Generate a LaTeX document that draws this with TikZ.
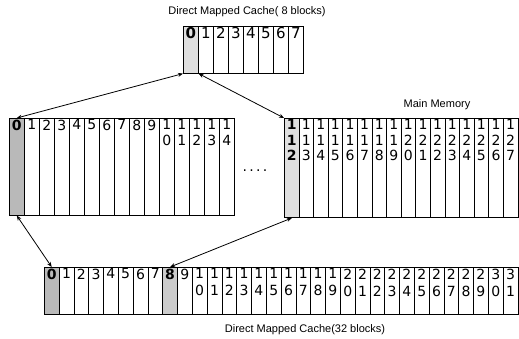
\documentclass[tikz,border=0pt]{standalone}
\usepackage{fontspec}
\setmainfont{DejaVu Sans}
\newfontfamily\titlefont{Liberation Sans}
\usetikzlibrary{arrows.meta,positioning}
\tikzset{
  cell/.style={draw=black, line width=0.6pt, inner sep=0pt, anchor=north west, minimum width=15pt},
  digits/.style={below, inner sep=1.5pt, align=center, font=\fontsize{14}{16}\selectfont},
  hot/.style={fill=gray!55},
  warm/.style={fill=gray!25},
  title/.style={font=\titlefont\fontsize{11}{13}\selectfont},
  link/.style={{Stealth[length=5pt,width=4pt]}-{Stealth[length=5pt,width=4pt]}, line width=0.8pt}
}
\begin{document}
\begin{tikzpicture}[x=1pt, y=-1pt]
  \useasboundingbox (0,0) rectangle (519,339);
  % top cache, 8 blocks
  \node[title] (toptitle) at (247,12) {Direct Mapped Cache( 8 blocks)};
  \node[cell, warm, minimum height=47pt, label={[digits, font=\bfseries\fontsize{15}{16}\selectfont]north:0}] (tc0) at (183,26) {};
  \foreach \i in {1,...,7} {
    \node[cell, minimum height=47pt, label={[digits, font=\fontsize{15}{16}\selectfont]north:\i}] (tc\i) at (183+15*\i,26) {};
  }
  % main memory, left part
  \node[cell, hot, minimum height=97pt, label={[digits, font=\bfseries\fontsize{14}{16}\selectfont]north:0}] (mm0) at (9,118) {};
  \foreach \t [count=\i from 1] in {1,2,3,4,5,6,7,8,9,1\\0,1\\1,1\\2,1\\3,1\\4} {
    \node[cell, minimum height=97pt, label={[digits]north:\t}] (mm\i) at (9+15*\i,118) {};
  }
  \node (dots) at (255,173) {\fontsize{14}{14}\selectfont ·\,·\,·\,·};
  % main memory, right part
  \node[title] (memtitle) at (437,105) {Main Memory};
  \node[cell, warm, minimum width=14.6pt, minimum height=99pt, line width=1pt,
    label={[digits, font=\bfseries\fontsize{14}{15.5}\selectfont]north:1\\1\\2}] (rm0) at (284,118) {};
  \foreach \t [count=\i from 1] in {1\\3,1\\4,1\\5,1\\6,1\\7,1\\8,1\\9,2\\0,2\\1,2\\2,2\\3,2\\4,2\\5,2\\6,2\\7} {
    \node[cell, minimum width=14.6pt, minimum height=99pt,
      label={[digits, font=\fontsize{14}{15.5}\selectfont]north:1\\\t}] (rm\i) at (284+14.6*\i,118) {};
  }
  % bottom cache, 32 blocks
  \node[cell, hot, minimum width=14.8pt, minimum height=47pt,
    label={[digits, font=\bfseries\fontsize{14}{17}\selectfont]north:0}] (bc0) at (44,267) {};
  \foreach \t [count=\i from 1] in {1,2,3,4,5,6,7,8,9,1\\0,1\\1,1\\2,1\\3,1\\4,1\\5,1\\6,1\\7,1\\8,1\\9,
      2\\0,2\\1,2\\2,2\\3,2\\4,2\\5,2\\6,2\\7,2\\8,2\\9,3\\0,3\\1} {
    \ifnum\i=8 \else
    \node[cell, minimum width=14.8pt, minimum height=47pt,
      label={[digits, font=\fontsize{14}{17}\selectfont]north:\t}] (bc\i) at (44+14.8*\i,267) {};
    \fi
  }
  \node[cell, fill=gray!40, minimum width=14.8pt, minimum height=47pt,
    label={[digits, font=\bfseries\fontsize{14}{17}\selectfont]north:8}] (bc8) at (44+14.8*8,267) {};
  \node[title] (bottitle) at (305,330) {Direct Mapped Cache(32 blocks)};
  % mappings
  \draw[link] (tc0.south west) -- (mm0.north);
  \draw[link] (tc0.south east) -- (rm0.north west);
  \draw[link] (mm0.south) -- (bc0.north);
  \draw[link] (bc8.north) -- (rm0.south);
\end{tikzpicture}
\end{document}
